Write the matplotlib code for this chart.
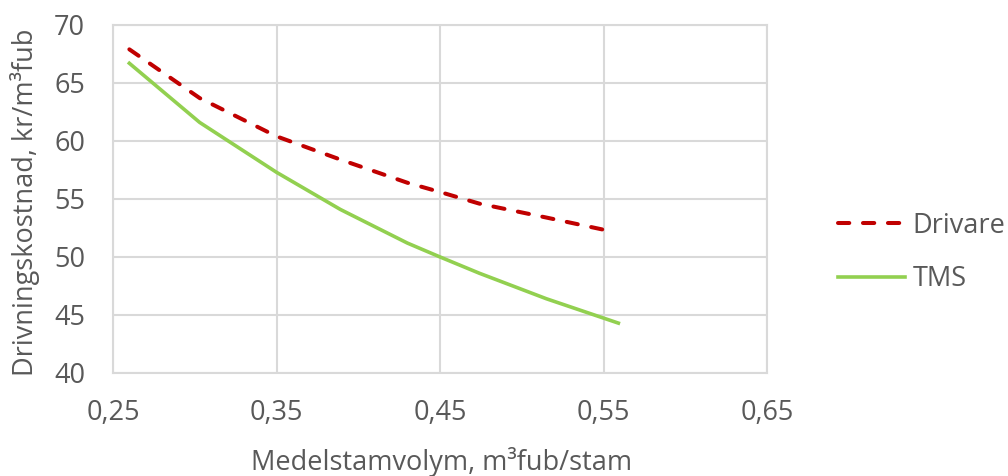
import matplotlib.pyplot as plt

plt.rcParams['font.family'] = ['Open Sans', 'DejaVu Sans']

x_drivare = [0.26, 0.303, 0.35, 0.389, 0.43, 0.45, 0.474, 0.515, 0.555]
y_drivare = [67.9, 63.7, 60.4, 58.4, 56.4, 55.6, 54.6, 53.4, 52.2]
x_tms = [0.26, 0.303, 0.35, 0.389, 0.43, 0.45, 0.474, 0.515, 0.559]
y_tms = [66.7, 61.6, 57.3, 54.1, 51.2, 50.0, 48.6, 46.4, 44.3]
xticks = [0.25, 0.35, 0.45, 0.55, 0.65]
yticks = [40, 45, 50, 55, 60, 65, 70]

gray = '#595959'
grid = '#d9d9d9'
fs = 19.5

fig = plt.figure(figsize=(10.08, 4.76), dpi=100)
ax = fig.add_axes([0.1121, 0.2164, 0.649, 0.7311])

ax.plot(x_drivare, y_drivare, color='#c00000', lw=2.9, dashes=(2.8, 3.4),
        dash_capstyle='round', label='Drivare', zorder=3)
ax.plot(x_tms, y_tms, color='#92d050', lw=2.6, label='TMS', zorder=3)

ax.set_xlim(0.25, 0.65)
ax.set_ylim(40, 70)
ax.set_xticks(xticks)
ax.set_xticklabels([f'{v:.2f}'.replace('.', ',') for v in xticks])
ax.set_yticks(yticks)
ax.grid(True, color=grid, lw=1.5)
ax.set_axisbelow(True)
for s in ax.spines.values():
    s.set_color(grid)
    s.set_linewidth(1.5)
ax.tick_params(axis='x', length=0, labelsize=fs, labelcolor=gray, pad=19)
ax.tick_params(axis='y', length=0, labelsize=fs, labelcolor=gray, pad=20)

ax.set_xlabel('Medelstamvolym, m³fub/stam', fontsize=fs, color=gray, va='center')
ax.set_ylabel('Drivningskostnad, kr/m³fub', fontsize=fs, color=gray, va='center', ha='center')
ax.xaxis.set_label_coords(0.503, -0.256)
ax.yaxis.set_label_coords(-0.1345, 0.49)

fig.legend(loc='center left', bbox_to_anchor=(0.831, 0.4695), frameon=False,
           fontsize=fs, labelcolor=gray, handlelength=2.5, handletextpad=0.26,
           labelspacing=0.95, borderpad=0, borderaxespad=0)

fig.savefig('out.png', dpi=100)
